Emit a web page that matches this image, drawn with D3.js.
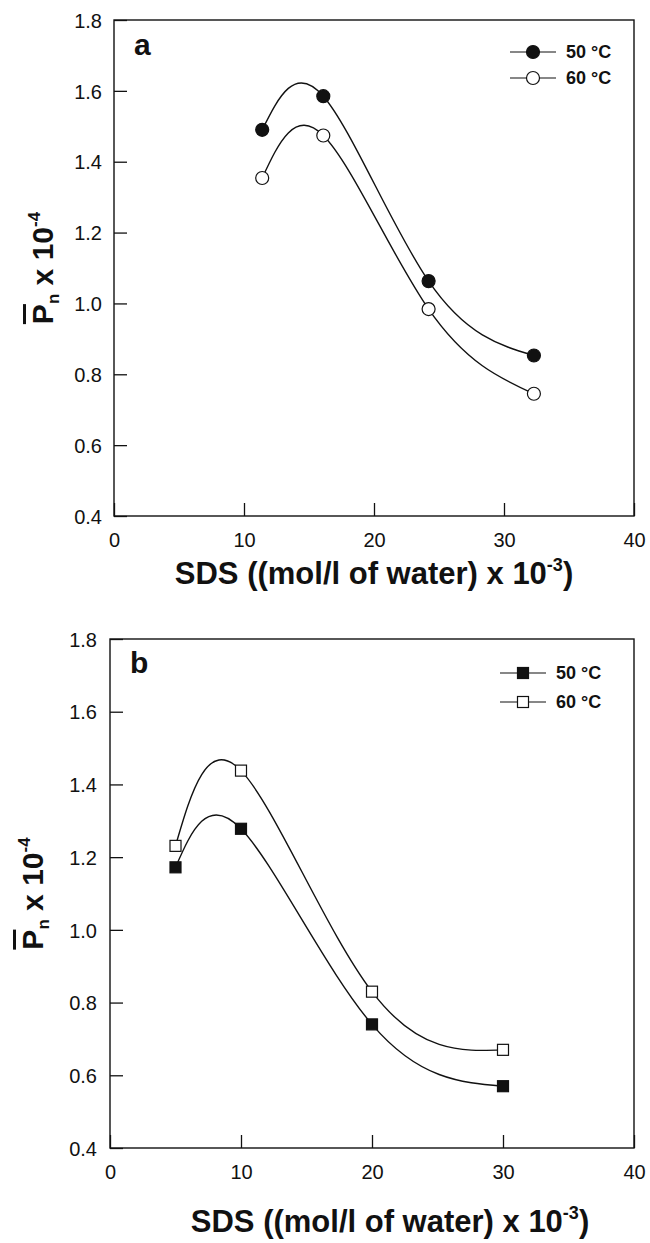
<!DOCTYPE html>
<html>
<head>
<meta charset="utf-8">
<script src="https://cdn.jsdelivr.net/npm/d3@7"></script>
<style>
  body { margin: 0; background: #fff; }
  text { font-family: "Liberation Sans", Arial, sans-serif; fill: #111; }
</style>
</head>
<body>
<svg id="chart" width="650" height="1243"></svg>
<script>
// panel a : SDS vs Pn (circles)
const sdsA = [11.4, 16.1, 24.2, 32.3];
const pnA50 = [1.49, 1.585, 1.063, 0.853];
const pnA60 = [1.354, 1.474, 0.984, 0.745];
// panel b : SDS vs Pn (squares)
const sdsB = [5, 10, 20, 30];
const pnB50 = [1.172, 1.278, 0.74, 0.57];
const pnB60 = [1.231, 1.438, 0.83, 0.67];

const xTicks = [0, 10, 20, 30, 40];
const yTicks = [0.4, 0.6, 0.8, 1.0, 1.2, 1.4, 1.6, 1.8];
const series = ["50 °C", "60 °C"];

const svg = d3.select("#chart");

function panel(opt) {
    const g = svg.append("g");
    const x = d3.scaleLinear().domain([0, 40]).range([opt.left, opt.right]);
    const y = d3.scaleLinear().domain([0.4, 1.8]).range([opt.bottom, opt.top]);

    // cadre
    g.append("rect")
        .attr("x", opt.left).attr("y", opt.top)
        .attr("width", opt.right - opt.left).attr("height", opt.bottom - opt.top)
        .attr("fill", "none").attr("stroke", "#111").attr("stroke-width", 1.4);

    // axes, ticks vers l'intérieur
    const xa = g.append("g")
        .attr("transform", `translate(0,${opt.bottom})`)
        .call(d3.axisBottom(x).tickValues(xTicks).tickSizeInner(-13).tickSizeOuter(0).tickPadding(17));
    const ya = g.append("g")
        .attr("transform", `translate(${opt.left},0)`)
        .call(d3.axisLeft(y).tickValues(yTicks).tickFormat(d3.format(".1f")).tickSizeInner(-13).tickSizeOuter(0).tickPadding(opt.yPad));
    [xa, ya].forEach(a => {
        a.select(".domain").remove();
        a.selectAll("line").attr("stroke", "#111").attr("stroke-width", 1.3);
        a.selectAll("text").attr("font-size", 20).attr("fill", "#111")
            .style("font-family", "'Liberation Sans', Arial, sans-serif");
    });
    ya.selectAll("text").attr("dy", "0.36em");

    // titres
    const xt = g.append("text")
        .attr("x", opt.xTitleX).attr("y", opt.xTitleY)
        .attr("text-anchor", "middle")
        .attr("font-size", 31).attr("font-weight", "bold");
    xt.append("tspan").text("SDS ((mol/l of water) x 10");
    xt.append("tspan").attr("font-size", 18).attr("dy", -13).text("-3");
    xt.append("tspan").attr("dy", 13).text(")");

    const yt = g.append("text")
        .attr("transform", `translate(${opt.yTitleX},${(opt.top + opt.bottom) / 2}) rotate(-90)`)
        .attr("text-anchor", "middle")
        .attr("font-size", 30).attr("font-weight", "bold");
    yt.append("tspan").style("text-decoration", "overline").text("P");
    yt.append("tspan").attr("font-size", 17).attr("dy", 6).text("n");
    yt.append("tspan").attr("dy", -6).text(" x 10");
    yt.append("tspan").attr("font-size", 17).attr("dy", -13).text("-4");

    // lettre du panneau
    g.append("text")
        .attr("x", opt.left + 20).attr("y", opt.letterY)
        .attr("font-size", 30).attr("font-weight", "bold")
        .text(opt.letter);

    // courbes
    const line = d3.line()
        .x(d => x(d[0])).y(d => y(d[1]))
        .curve(d3.curveNatural);
    const sets = [d3.zip(opt.sds, opt.s50), d3.zip(opt.sds, opt.s60)];
    sets.forEach(pts => {
        g.append("path").datum(pts)
            .attr("d", line)
            .attr("fill", "none").attr("stroke", "#111").attr("stroke-width", 1.4);
    });

    // marqueurs
    const fills = ["#111", "#fff"];
    sets.forEach((pts, i) => {
        drawMarkers(g, pts.map(d => [x(d[0]), y(d[1])]), opt.shape, fills[i]);
    });

    // légende
    series.forEach((s, i) => {
        const ly = opt.legendY + i * opt.legendStep;
        g.append("line")
            .attr("x1", opt.legendX - 23).attr("x2", opt.legendX + 23)
            .attr("y1", ly).attr("y2", ly)
            .attr("stroke", "#111").attr("stroke-width", 1.2);
        drawMarkers(g, [[opt.legendX, ly]], opt.shape, fills[i]);
        g.append("text")
            .attr("x", opt.legendX + 33).attr("y", ly + 6)
            .attr("font-size", 18).attr("font-weight", "bold")
            .text(s);
    });
}

function drawMarkers(g, pts, shape, fill) {
    if (shape === "circle") {
        g.selectAll(null).data(pts).enter().append("circle")
            .attr("cx", d => d[0]).attr("cy", d => d[1]).attr("r", 6.5)
            .attr("fill", fill).attr("stroke", "#111").attr("stroke-width", 1.2);
    } else {
        g.selectAll(null).data(pts).enter().append("rect")
            .attr("x", d => d[0] - 5.5).attr("y", d => d[1] - 5.5)
            .attr("width", 11).attr("height", 11)
            .attr("fill", fill).attr("stroke", "#111").attr("stroke-width", 1.2);
    }
}

panel({
    left: 114, right: 634, top: 20, bottom: 516, yPad: 12,
    sds: sdsA, s50: pnA50, s60: pnA60, shape: "circle", letter: "a", letterY: 55,
    xTitleX: 374, xTitleY: 584, yTitleX: 53,
    legendX: 533, legendY: 52, legendStep: 26
});
panel({
    left: 110, right: 634, top: 639, bottom: 1148, yPad: 13,
    sds: sdsB, s50: pnB50, s60: pnB60, shape: "square", letter: "b", letterY: 673,
    xTitleX: 390, xTitleY: 1232, yTitleX: 43,
    legendX: 523, legendY: 673, legendStep: 29
});
</script>
</body>
</html>
